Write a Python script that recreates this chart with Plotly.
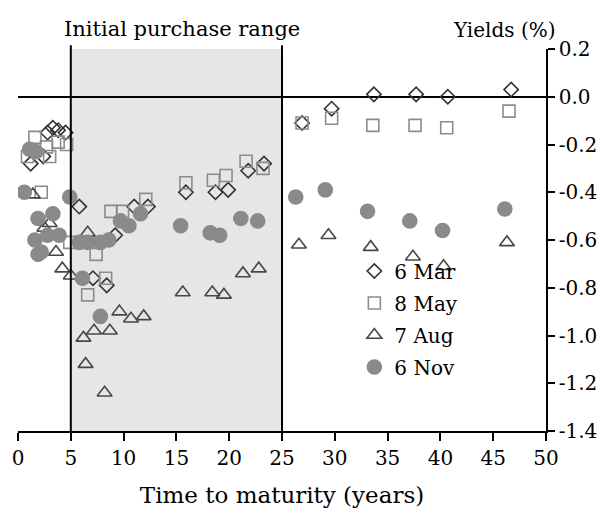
import plotly.graph_objects as go

# Yield curve snapshots: time to maturity (years) vs yield (%)
mar_x = [1.2, 2.4, 2.8, 3.3, 3.8, 4.5, 5.8, 7.1, 8.4, 9.2, 11.0, 12.3, 15.9, 18.7, 19.9,
         21.8, 23.3, 26.9, 29.7, 33.7, 37.7, 40.7, 46.7]
mar_y = [-0.28, -0.25, -0.15, -0.13, -0.14, -0.15, -0.46, -0.76, -0.79, -0.58, -0.46, -0.46,
         -0.40, -0.40, -0.39, -0.31, -0.28, -0.11, -0.05, 0.01, 0.01, 0.0, 0.03]

may_x = [0.9, 1.6, 2.2, 2.7, 3.0, 3.8, 4.6, 4.9, 6.6, 7.4, 8.3, 8.8, 9.9, 12.1, 15.9, 18.5,
         19.7, 21.6, 23.2, 26.9, 29.7, 33.6, 37.6, 40.6, 46.5]
may_y = [-0.25, -0.17, -0.40, -0.21, -0.25, -0.19, -0.20, -0.61, -0.83, -0.66, -0.76, -0.48,
         -0.48, -0.43, -0.36, -0.35, -0.33, -0.27, -0.30, -0.11, -0.09, -0.12, -0.12, -0.13, -0.06]

aug_x = [1.4, 2.5, 3.0, 3.6, 4.2, 5.0, 6.6, 6.2, 7.2, 8.7, 6.4, 8.2, 9.6, 10.7, 11.9, 15.6,
         18.4, 19.5, 21.3, 22.8, 26.6, 29.4, 33.4, 37.4, 40.3, 46.3]
aug_y = [-0.41, -0.55, -0.53, -0.65, -0.72, -0.75, -0.57, -1.01, -0.98, -0.98, -1.12, -1.24,
         -0.90, -0.93, -0.92, -0.82, -0.82, -0.83, -0.74, -0.72, -0.62, -0.58, -0.63, -0.67,
         -0.71, -0.61]

nov_x = [0.6, 1.1, 1.7, 1.9, 3.3, 1.6, 2.8, 3.9, 2.2, 1.9, 4.9, 5.8, 6.6, 7.8, 8.6, 6.1,
         7.8, 9.7, 10.5, 11.6, 15.4, 18.2, 19.1, 21.1, 22.7, 26.3, 29.1, 33.1, 37.1, 40.2, 46.1]
nov_y = [-0.40, -0.22, -0.23, -0.51, -0.49, -0.60, -0.58, -0.58, -0.65, -0.66, -0.42, -0.61,
         -0.61, -0.61, -0.60, -0.76, -0.92, -0.52, -0.54, -0.49, -0.54, -0.57, -0.58, -0.51,
         -0.52, -0.42, -0.39, -0.48, -0.52, -0.56, -0.47]

x_ticks = [0, 5, 10, 15, 20, 25, 30, 35, 40, 45, 50]
y_ticks = [0.2, 0.0, -0.2, -0.4, -0.6, -0.8, -1.0, -1.2, -1.4]
y_tick_text = ["0.2", "0.0", "-0.2", "-0.4", "-0.6", "-0.8", "-1.0", "-1.2", "-1.4"]

purchase_range = (5, 25)

FONT = "DejaVu Serif"

fig = go.Figure()

series = [
    ("6 Mar", mar_x, mar_y, "diamond-open", "#333333", 11),
    ("8 May", may_x, may_y, "square-open", "#8c8c8c", 12),
    ("7 Aug", aug_x, aug_y, "triangle-up-open", "#474747", 13),
    ("6 Nov", nov_x, nov_y, "circle", "#8a8a8a", 14),
]
for name, xs, ys, sym, col, size in series:
    fig.add_trace(go.Scatter(
        x=xs, y=ys, mode="markers", name=name, legendgroup=name,
        marker=dict(symbol=sym, size=size, color=col,
                    line=dict(width=1.6, color=col)),
    ))

# shaded purchase range with its boundary lines
fig.add_shape(type="rect", xref="x", yref="y", x0=purchase_range[0], x1=purchase_range[1],
              y0=-1.4, y1=0.2, fillcolor="#e6e6e6", line=dict(width=0), layer="below")
for xv in purchase_range:
    fig.add_shape(type="line", xref="x", yref="paper", x0=xv, x1=xv, y0=0, y1=1.01,
                  line=dict(color="black", width=2), layer="above")

fig.add_annotation(text="Initial purchase range", xref="x", yref="paper",
                   x=15.5, y=1.0, yanchor="bottom", yshift=6, showarrow=False,
                   font=dict(family=FONT, size=21, color="black"))
fig.add_annotation(text="Yields (%)", xref="paper", yref="paper",
                   x=1.022, y=1.0, xanchor="right", yanchor="bottom", yshift=5,
                   showarrow=False, font=dict(family=FONT, size=20, color="black"))

fig.update_layout(
    width=615, height=518,
    margin=dict(l=15, r=69, t=49, b=87),
    paper_bgcolor="white", plot_bgcolor="white",
    font=dict(family=FONT, size=19, color="black"),
    showlegend=True,
    legend=dict(x=0.637, y=0.47, xanchor="left", yanchor="top",
                bgcolor="rgba(0,0,0,0)", tracegroupgap=3,
                font=dict(family=FONT, size=20), itemwidth=30),
    xaxis=dict(range=[0, 50], tickvals=x_ticks, ticks="outside", ticklen=8,
               tickwidth=1.5, tickcolor="black", showline=True, linecolor="black",
               linewidth=1.5, showgrid=False, zeroline=False,
               tickfont=dict(size=20),
               title=dict(text="Time to maturity (years)", standoff=18)),
    yaxis=dict(range=[-1.4, 0.2], side="right", tickvals=y_ticks, ticktext=y_tick_text,
               ticks="outside", ticklen=7, tickwidth=1.5, tickcolor="black",
               showline=True, linecolor="black", linewidth=1.5, showgrid=False,
               tickfont=dict(size=20),
               zeroline=True, zerolinecolor="black", zerolinewidth=2),
)

fig.write_html("out.html")
